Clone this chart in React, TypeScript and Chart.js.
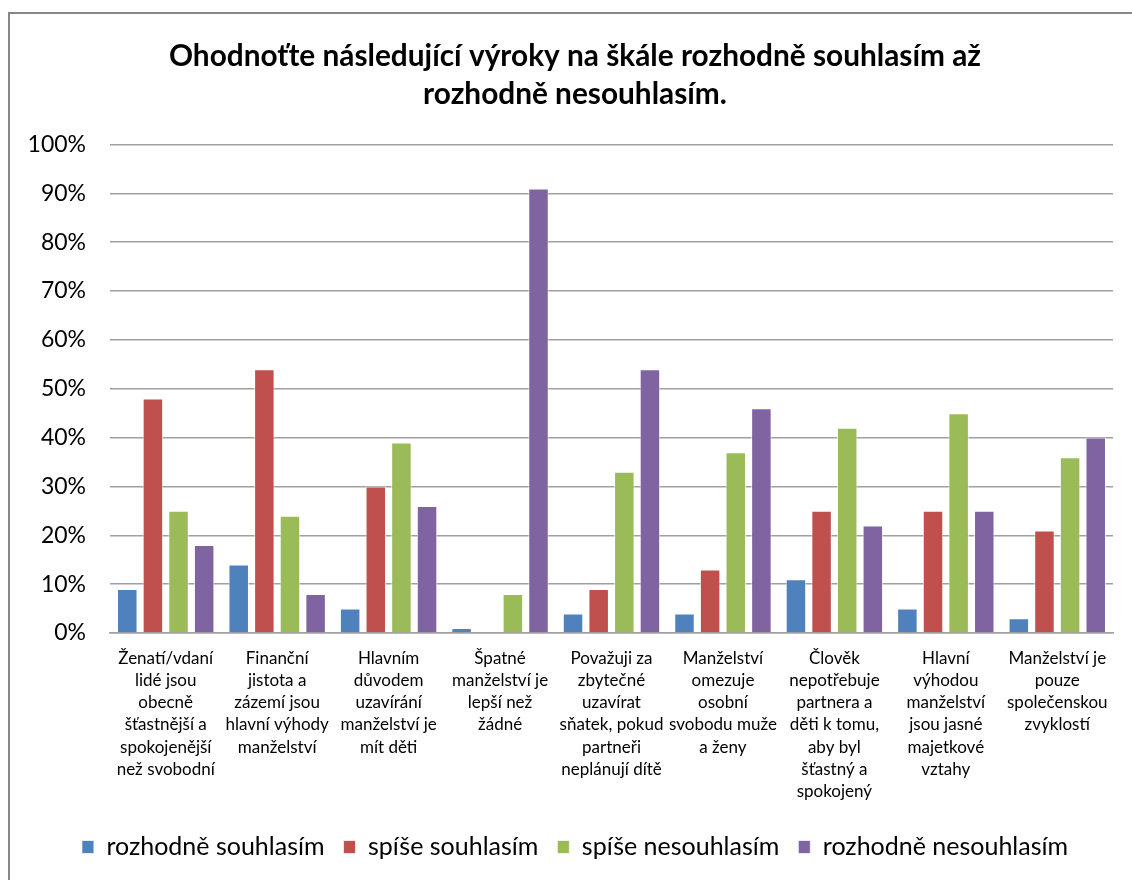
import { useEffect, useRef } from "react";
import { Chart, registerables } from "chart.js";

Chart.register(...registerables);

const TITLE_LINES = [
  "Ohodnoťte následující výroky na škále rozhodně souhlasím až",
  "rozhodně nesouhlasím.",
];

const CATEGORIES: string[][] = [
  ["Ženatí/vdaní", "lidé jsou", "obecně", "šťastnější a", "spokojenější", "než svobodní"],
  ["Finanční", "jistota a", "zázemí jsou", "hlavní výhody", "manželství"],
  ["Hlavním", "důvodem", "uzavírání", "manželství je", "mít děti"],
  ["Špatné", "manželství je", "lepší než", "žádné"],
  ["Považuji za", "zbytečné", "uzavírat", "sňatek, pokud", "partneři", "neplánují dítě"],
  ["Manželství", "omezuje", "osobní", "svobodu muže", "a ženy"],
  ["Člověk", "nepotřebuje", "partnera a", "děti k tomu,", "aby byl", "šťastný a", "spokojený"],
  ["Hlavní", "výhodou", "manželství", "jsou jasné", "majetkové", "vztahy"],
  ["Manželství je", "pouze", "společenskou", "zvyklostí"],
];

const SERIES_NAMES = [
  "rozhodně souhlasím",
  "spíše souhlasím",
  "spíše nesouhlasím",
  "rozhodně nesouhlasím",
];

const ROZHODNE_SOUHLASIM = [9, 14, 5, 1, 4, 4, 11, 5, 3];
const SPISE_SOUHLASIM = [48, 54, 30, 0, 9, 13, 25, 25, 21];
const SPISE_NESOUHLASIM = [25, 24, 39, 8, 33, 37, 42, 45, 36];
const ROZHODNE_NESOUHLASIM = [18, 8, 26, 91, 54, 46, 22, 25, 40];

const SERIES_COLORS = ["#4F81BD", "#C0504D", "#9BBB59", "#8064A2"];

const Y_MIN = 0;
const Y_MAX = 100;
const Y_STEP = 10;

const FONT = "Lato, 'Open Sans', 'Noto Sans', sans-serif";

const framePlugin = {
  id: "frame",
  beforeDraw(chart: any) {
    const ctx = chart.ctx;
    ctx.save();
    ctx.fillStyle = "#ffffff";
    ctx.fillRect(0, 0, chart.width, chart.height);
    ctx.strokeStyle = "#878787";
    ctx.lineWidth = 2;
    ctx.beginPath();
    ctx.moveTo(9, chart.height);
    ctx.lineTo(9, 13);
    ctx.lineTo(chart.width, 13);
    ctx.stroke();
    ctx.restore();
  },
};

export default function App() {
  const canvasRef = useRef<HTMLCanvasElement | null>(null);

  useEffect(() => {
    if (!canvasRef.current) return;
    const allSeries = [ROZHODNE_SOUHLASIM, SPISE_SOUHLASIM, SPISE_NESOUHLASIM, ROZHODNE_NESOUHLASIM];
    const chart = new Chart(canvasRef.current, {
      type: "bar",
      data: {
        labels: CATEGORIES,
        datasets: allSeries.map((values, i) => ({
          label: SERIES_NAMES[i],
          data: values,
          backgroundColor: SERIES_COLORS[i],
          borderColor: "rgba(255,255,255,0.7)",
          borderWidth: 1,
          categoryPercentage: 0.92,
          barPercentage: 0.8,
        })),
      },
      options: {
        responsive: false,
        animation: false,
        layout: { padding: { top: 0, left: 18, right: 0, bottom: 10.5 } },
        plugins: {
          tooltip: { enabled: false },
          title: {
            display: true,
            text: TITLE_LINES,
            color: "#000000",
            font: { family: FONT, size: 29.8, weight: "bold", lineHeight: 1.275 },
            padding: { top: 37, bottom: 31.5 },
          },
          legend: {
            display: true,
            position: "bottom",
            labels: {
              color: "#000000",
              font: { family: FONT, size: 25 },
              boxWidth: 12,
              boxHeight: 13,
              padding: 19,
            },
          },
        },
        scales: {
          x: {
            grid: { display: false, drawTicks: false },
            border: { display: true, color: "#a0a0a0", width: 1.5 },
            ticks: {
              color: "#000000",
              font: { family: FONT, size: 17, lineHeight: 1.31 },
              padding: 14,
              autoSkip: false,
              maxRotation: 0,
              minRotation: 0,
            },
            afterFit: (scale: any) => {
              scale.height = 182.5;
            },
          },
          y: {
            min: Y_MIN,
            max: Y_MAX,
            grid: { color: "#a0a0a0", lineWidth: 1.5, drawTicks: false },
            border: { display: false },
            ticks: {
              stepSize: Y_STEP,
              color: "#000000",
              font: { family: FONT, size: 23 },
              padding: 24,
              callback: (v: any) => v + "%",
            },
            afterFit: (scale: any) => {
              scale.width = 92;
            },
          },
          y2: {
            position: "right",
            display: true,
            grid: { display: false, drawTicks: false },
            border: { display: false },
            ticks: { display: false },
            afterFit: (scale: any) => {
              scale.width = 19;
            },
          },
        },
      },
      plugins: [framePlugin],
    });
    return () => chart.destroy();
  }, []);

  return (
    <div style={{ position: "fixed", left: 0, top: 0, width: 1132, height: 880, overflow: "hidden", background: "#fff" }}>
      <canvas ref={canvasRef} width={1132} height={880} style={{ display: "block" }} />
    </div>
  );
}
